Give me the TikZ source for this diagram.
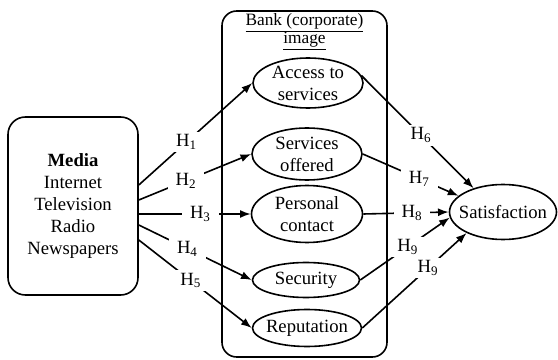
\documentclass[tikz,border=0pt]{standalone}
\usepackage{fontspec}
\setmainfont{Liberation Serif}
\usetikzlibrary{shapes.geometric,arrows.meta,calc}
\begin{document}
\begin{tikzpicture}[x=0.75pt,y=-0.75pt,
  every node/.style={font=\fontsize{14}{16.5}\selectfont},
  oval/.style={draw,ellipse,line width=1.2pt,inner sep=-8pt,align=center},
  box/.style={draw,line width=1.2pt,align=center},
  conn/.style={line width=1.2pt,-{Latex[length=8pt,width=6pt]}},
  hyp/.style={fill=white,inner xsep=6pt,inner ysep=2pt}]
\useasboundingbox (0,0) rectangle (558,360);

% Media box
\node[box,rounded corners=13pt,minimum width=97.5pt,minimum height=133.5pt] (media) at (73,206)
  {\textbf{Media}\\Internet\\Television\\Radio\\Newspapers};

% Image dimensions
\node[oval,minimum width=82.5pt,minimum height=37.5pt] (acc) at (308,83) {Access to\\services};
\node[oval,minimum width=82.5pt,minimum height=39pt] (srv) at (307,154) {Services\\offered};
\node[oval,minimum width=83.25pt,minimum height=42.75pt] (per) at (307,214) {Personal\\contact};
\node[oval,minimum width=80.25pt,minimum height=26.25pt] (sec) at (306,280) {Security};
\node[oval,minimum width=81.75pt,minimum height=27.75pt] (rep) at (307,328) {Reputation};

% Satisfaction
\node[oval,minimum width=80.25pt,minimum height=41.25pt] (sat) at (503,212) {Satisfaction};

% Connectors from Media
\draw[conn] ($(media.east)+(0,-21)$) -- node[hyp,pos=.42]{H\textsubscript{1}} (acc.west);
\draw[conn] ($(media.east)+(0,-6)$) -- node[hyp,pos=.42]{H\textsubscript{2}} (srv.west);
\draw[conn] (media.east |- per.west) -- node[hyp,pos=.55]{H\textsubscript{3}} (per.west);
\draw[conn] ($(media.east)+(0,19)$) -- node[hyp,pos=.43]{H\textsubscript{4}} (sec.west);
\draw[conn] ($(media.east)+(0,34)$) -- node[hyp,pos=.46]{H\textsubscript{5}} (rep.west);

% Connectors to Satisfaction
\draw[conn] (acc.8) -- node[hyp,pos=.53]{H\textsubscript{6}} (sat.141);
\draw[conn] (srv.east) -- node[hyp,pos=.59]{H\textsubscript{7}} (sat.160);
\draw[conn] (per.east) -- node[hyp,pos=.57]{H\textsubscript{8}} (sat.west);
\draw[conn] (sec.east) -- node[hyp,pos=.53]{H\textsubscript{9}} (sat.186);
\draw[conn] (rep.east) -- node[hyp,pos=.63]{H\textsubscript{9}} (sat.210);

% Bank (corporate) image container
\node[draw,line width=1.2pt,rounded corners=11pt,minimum width=123.75pt,minimum height=259.5pt] (bank) at (304.5,184) {};
\node[font=\fontsize{13}{13.5}\selectfont,align=center,anchor=north,inner sep=0pt] (banktitle)
  at ($(bank.north)+(0,3)$) {\underline{Bank (corporate)}\\\underline{image}};
\end{tikzpicture}
\end{document}
